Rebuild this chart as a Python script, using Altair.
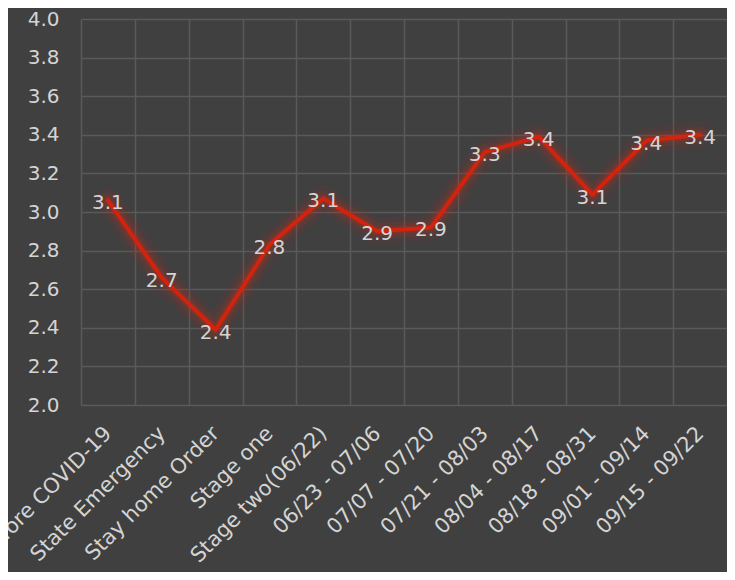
import altair as alt
import pandas as pd

categories = ["Before COVID-19", "State Emergency", "Stay home Order", "Stage one",
              "Stage two(06/22)", "06/23 - 07/06", "07/07 - 07/20", "07/21 - 08/03",
              "08/04 - 08/17", "08/18 - 08/31", "09/01 - 09/14", "09/15 - 09/22"]
values = [3.06, 2.66, 2.39, 2.83, 3.07, 2.90, 2.92, 3.31, 3.39, 3.09, 3.37, 3.40]

df = pd.DataFrame({"cat": categories, "val": values})

FONT = "DejaVu Sans"
TXT = "#d4d4d4"
GRID = "#5a5a5a"

x_enc = alt.X(
    "cat:N", sort=categories, bandPosition=0.5,
    scale=alt.Scale(type="band", paddingInner=0, paddingOuter=0),
    axis=alt.Axis(title=None, labelAngle=-45, labelAlign="right", labelBaseline="middle",
                  labelPadding=25, domain=False, ticks=False, grid=True, tickBand="extent",
                  gridColor=GRID, gridWidth=1.5, labelColor=TXT, labelFontSize=21,
                  labelFont=FONT, labelOverlap=False, labelLimit=400),
)
y_enc = alt.Y(
    "val:Q",
    scale=alt.Scale(domain=[2.0, 4.0], nice=False, zero=False),
    axis=alt.Axis(title=None, values=[2.0, 2.2, 2.4, 2.6, 2.8, 3.0, 3.2, 3.4, 3.6, 3.8, 4.0],
                  format=".1f", domain=False, ticks=False, grid=True, gridColor=GRID,
                  gridWidth=1.5, labelColor=TXT, labelFontSize=20, labelFont=FONT,
                  labelPadding=22),
)

base = alt.Chart(df).encode(x=x_enc, y=y_enc)

glow1 = base.mark_line(color="#b02a1a", strokeWidth=26, opacity=0.08, strokeCap="round", strokeJoin="round")
glow2 = base.mark_line(color="#c02a1a", strokeWidth=16, opacity=0.14, strokeCap="round", strokeJoin="round")
glow3 = base.mark_line(color="#d02a14", strokeWidth=9, opacity=0.22, strokeCap="round", strokeJoin="round")
line = base.mark_line(color="#d2230e", strokeWidth=4, strokeCap="round", strokeJoin="round")
text = base.mark_text(font=FONT, fontSize=20, color=TXT, align="center",
                      baseline="middle", dy=3).encode(text=alt.Text("val:Q", format=".1f"))

chart = alt.layer(glow1, glow2, glow3, line, text).properties(
    width=646, height=386,
    autosize=alt.AutoSizeParams(type="none"),
    padding={"left": 73, "top": 11, "right": 0, "bottom": 167},
    background="#404040",
).configure_view(stroke=None)

chart.save("out.html", embed_options={"renderer": "svg", "actions": False})
